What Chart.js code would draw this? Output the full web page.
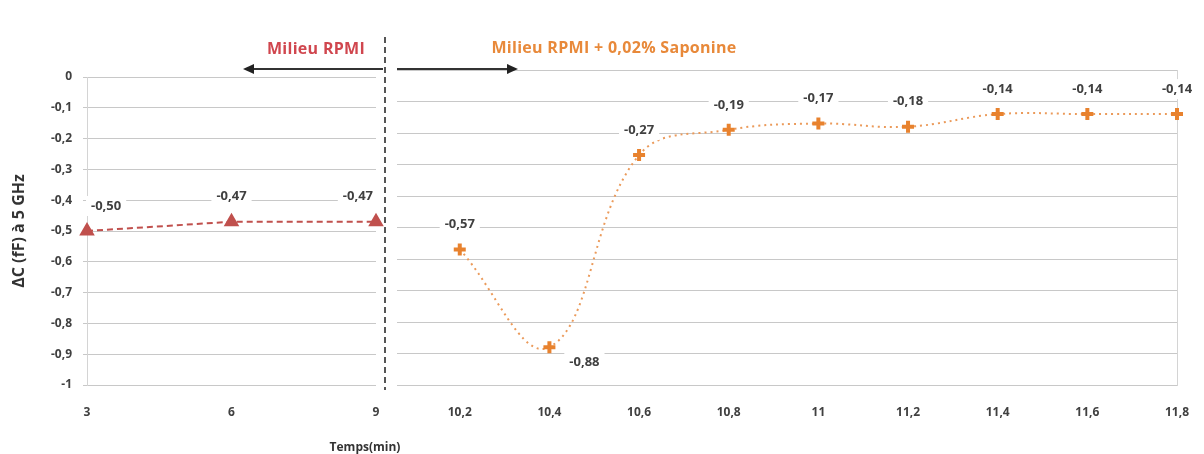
<!DOCTYPE html>
<html>
<head>
<meta charset="utf-8">
<script src="https://cdn.jsdelivr.net/npm/chart.js@4.4.0/dist/chart.umd.min.js"></script>
<style>
  html, body { margin: 0; padding: 0; background: #fff; }
  #wrap { position: relative; width: 1204px; height: 454px; overflow: hidden; font-family: "Open Sans", sans-serif; }
  #leftCanvas { position: absolute; left: 0; top: 0; }
  #rightCanvas { position: absolute; left: 385px; top: 0; }
  #overlay { position: absolute; left: 0; top: 0; }
  .note { position: absolute; font-weight: bold; white-space: nowrap; transform: translate(-50%, -50%); }
</style>
</head>
<body>
<div id="wrap">
  <canvas id="leftCanvas" width="385" height="454"></canvas>
  <canvas id="rightCanvas" width="819" height="454"></canvas>
  <svg id="overlay" width="1204" height="454">
    <line x1="385" y1="37" x2="385" y2="390" stroke="#555" stroke-width="2" stroke-dasharray="6,4"/>
    <line x1="383" y1="69" x2="250" y2="69" stroke="#333" stroke-width="2"/>
    <polygon points="243,69 254,64 254,74" fill="#222"/>
    <line x1="397" y1="69" x2="511" y2="69" stroke="#333" stroke-width="2"/>
    <polygon points="518,69 507,64 507,74" fill="#222"/>
  </svg>
  <div class="note" style="left:316px;top:48px;font-size:16px;letter-spacing:0.3px;color:#d0464e;">Milieu RPMI</div>
  <div class="note" style="left:614px;top:47px;font-size:16px;letter-spacing:0.3px;color:#e8893a;">Milieu RPMI + 0,02% Saponine</div>
  <div class="note" style="left:365px;top:446px;font-size:12px;color:#333;">Temps(min)</div>
</div>
<script>
// left part: RPMI medium alone
const rpmiTimes = ["3", "6", "9"];
const rpmiValues = [-0.50, -0.47, -0.47];
// right part: RPMI + 0,02% saponine
const saponineTimes = [10.2, 10.4, 10.6, 10.8, 11, 11.2, 11.4, 11.6, 11.8];
const saponineValues = [-0.57, -0.88, -0.27, -0.19, -0.17, -0.18, -0.14, -0.14, -0.14];
const yMin = -1, yMax = 0, yStep = 0.1;

const tickFont = { family: "'Open Sans', sans-serif", size: 12, weight: "bold" };
const comma = v => String(Number(v.toFixed(2))).replace(".", ",");
const yOf = d => (typeof d === "object" ? d.y : d);

// value labels with a white box behind them
const valueLabels = {
  id: "valueLabels",
  afterDatasetsDraw(chart, args, opts) {
    const ctx = chart.ctx;
    const area = chart.chartArea;
    chart.data.datasets.forEach((ds, di) => {
      const meta = chart.getDatasetMeta(di);
      const vals = ds.data.map(yOf);
      const low = Math.min(...vals);
      meta.data.forEach((pt, i) => {
        const v = vals[i];
        const text = v.toFixed(2).replace(".", ",");
        ctx.save();
        ctx.font = "bold 13px 'Open Sans', sans-serif";
        const w = ctx.measureText(text).width;
        let x = pt.x, y = pt.y - 25;
        if (opts.dipBelow && v === low) { x += 35; y = pt.y + 15; }
        if (opts.clamp) x = Math.min(Math.max(x, area.left + w / 2 + 4), area.right - w / 2 - 3);
        ctx.fillStyle = "#fff";
        ctx.fillRect(x - w / 2 - 5, y - 10, w + 10, 20);
        ctx.fillStyle = "#404040";
        ctx.textAlign = "center";
        ctx.textBaseline = "middle";
        ctx.fillText(text, x, y);
        ctx.restore();
      });
    });
  }
};

// x axis: labels pushed down with an invisible tick mark (ticks.padding would also shrink the plot width)
const xGrid = { display: true, drawOnChartArea: false, drawTicks: true, tickLength: 20, color: "rgba(0,0,0,0)" };

new Chart(document.getElementById("leftCanvas"), {
  type: "line",
  data: {
    labels: rpmiTimes,
    datasets: [{
      data: rpmiValues,
      borderColor: "#c0504d",
      borderWidth: 2,
      borderDash: [6, 4],
      pointStyle: "triangle",
      pointRadius: 7,
      pointBackgroundColor: "#c0504d",
      pointBorderColor: "#c0504d",
      tension: 0,
      clip: false
    }]
  },
  options: {
    responsive: false,
    animation: false,
    devicePixelRatio: 1,
    layout: { padding: { left: 0, right: 8, top: 77, bottom: 0 } },
    plugins: { legend: { display: false }, tooltip: { enabled: false }, valueLabels: { clamp: true } },
    scales: {
      x: {
        grid: xGrid,
        border: { display: false },
        ticks: { font: tickFont, color: "#404040", padding: 0, maxRotation: 0 },
        afterFit: s => { s.height = 69; }
      },
      y: {
        min: yMin, max: yMax,
        ticks: { stepSize: yStep, font: tickFont, color: "#404040", padding: 11, callback: v => comma(v) },
        grid: { color: "#c8c8c8", tickLength: 4 },
        border: { display: true, color: "#d4d4d4" },
        title: {
          display: true, text: "ΔC (fF) à 5 GHz", color: "#333",
          font: { family: "'Open Sans', sans-serif", size: 16, weight: "bold" },
          padding: { top: 10 }
        },
        afterFit: s => { s.width = 87; }
      }
    }
  },
  plugins: [valueLabels]
});

new Chart(document.getElementById("rightCanvas"), {
  type: "line",
  data: {
    datasets: [{
      data: saponineTimes.map((t, i) => ({ x: t, y: saponineValues[i] })),
      borderColor: "#eb9a5a",
      borderWidth: 2,
      borderDash: [2, 4],
      pointStyle: "cross",
      pointRadius: 6,
      pointBorderWidth: 4,
      pointBorderColor: "#e8822e",
      pointBackgroundColor: "#e8822e",
      tension: 0.4,
      clip: false
    }]
  },
  options: {
    responsive: false,
    animation: false,
    devicePixelRatio: 1,
    layout: { padding: { left: 12, right: 27, top: 70, bottom: 0 } },
    plugins: { legend: { display: false }, tooltip: { enabled: false }, valueLabels: { dipBelow: true } },
    scales: {
      x: {
        type: "linear",
        min: 10.06, max: 11.8,
        afterBuildTicks: s => { s.ticks = saponineTimes.map(v => ({ value: v })); },
        ticks: { font: tickFont, color: "#404040", padding: 0, maxRotation: 0, autoSkip: false, callback: v => comma(v) },
        grid: xGrid,
        border: { display: false },
        afterFit: s => { s.height = 69; }
      },
      y: {
        min: yMin, max: yMax,
        ticks: { display: false, stepSize: yStep },
        grid: { color: "#c8c8c8", drawTicks: false },
        border: { display: false },
        afterFit: s => { s.width = 0; }
      },
      y2: {
        position: "right",
        min: yMin, max: yMax,
        ticks: { display: false },
        grid: { display: false, drawTicks: false },
        border: { display: true, color: "#d4d4d4" },
        afterFit: s => { s.width = 0; }
      }
    }
  },
  plugins: [valueLabels]
});
</script>
</body>
</html>
